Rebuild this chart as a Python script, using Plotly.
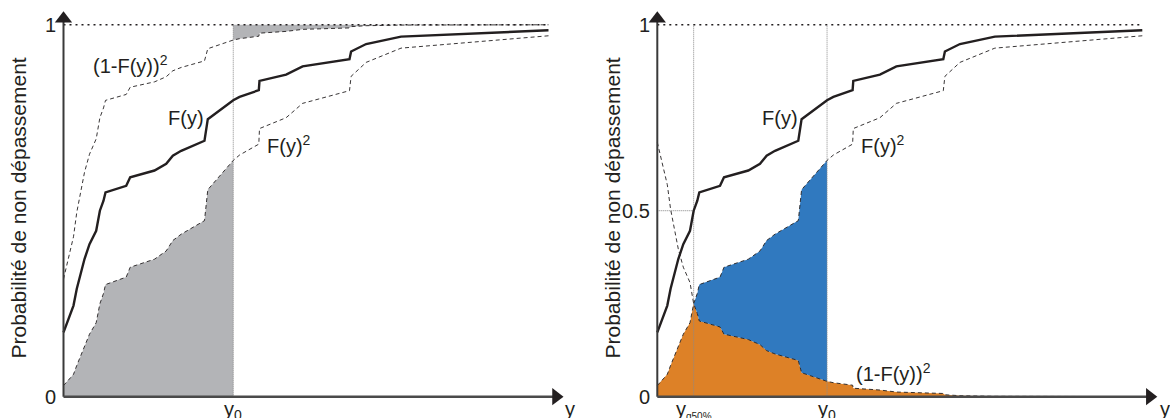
import plotly.graph_objects as go
import numpy as np

# ---- data ----
y_vals = [0, 1.24, 2.06, 2.74, 4.33, 5.36, 6.74, 7.5, 8.25, 8.66, 12.93, 13.75,
          18.76, 21.18, 22.54, 24.27, 29.07, 29.75, 35.0, 36.3, 40.27, 40.41,
          45.9, 49.3, 58.97, 59.3, 62.4, 69.6, 100]
F_vals = [0.173, 0.218, 0.245, 0.29, 0.37, 0.41, 0.446, 0.5, 0.527, 0.549, 0.567, 0.59,
          0.608, 0.626, 0.648, 0.661, 0.688, 0.746, 0.797, 0.806, 0.824, 0.849,
          0.866, 0.888, 0.907, 0.928, 0.948, 0.968, 0.985]
y0 = 35.0
yq50 = 7.5
tick_labels = ["0", "1"]
tick_labels_right = ["0", "0.5", "1"]

x = np.array(y_vals)
F = np.array(F_vals)
F2 = F ** 2
G2 = (1 - F) ** 2
upper = 1 - G2

INK = "#231f20"
GRAY = "#b3b4b7"
BLUE = "#3079bf"
ORANGE = "#dd8127"
FONT = "Liberation Sans, Arial, sans-serif"

W, H = 1170, 418
PX_PER_X = 4.85
PX_PER_Y = 372.0
Y0_PX = 396.7
AX_L = 63.5
AX_R = 657.3

def xr(axis_px, left, right):
    return [(left - axis_px) / PX_PER_X, (right - axis_px) / PX_PER_X]

fig = go.Figure()

def tr(**kw):
    fig.add_trace(go.Scatter(showlegend=False, hoverinfo="skip", **kw))

# ---------- left panel fills ----------
m = x <= y0
tr(x=x[m], y=F2[m], mode="lines", line=dict(width=0), fill="tozeroy",
   fillcolor=GRAY, xaxis="x", yaxis="y")
m2 = x >= y0
tr(x=x[m2], y=np.ones(m2.sum()), mode="lines", line=dict(width=0), xaxis="x", yaxis="y")
tr(x=x[m2], y=upper[m2], mode="lines", line=dict(width=0), fill="tonexty",
   fillcolor=GRAY, xaxis="x", yaxis="y")

# ---------- right panel fills ----------
tr(x=x, y=np.minimum(F2, G2), mode="lines", line=dict(width=0), fill="tozeroy",
   fillcolor=ORANGE, xaxis="x2", yaxis="y2")
mb = (x >= yq50) & (x <= y0)
tr(x=x[mb], y=G2[mb], mode="lines", line=dict(width=0), xaxis="x2", yaxis="y2")
tr(x=x[mb], y=F2[mb], mode="lines", line=dict(width=0), fill="tonexty",
   fillcolor=BLUE, xaxis="x2", yaxis="y2")

# ---------- reference lines ----------
for xa, ya, verts in (("x", "y", [y0]), ("x2", "y2", [yq50, y0])):
    tr(x=[0, x[-1]], y=[1, 1], mode="lines",
       line=dict(color=INK, width=1.6, dash="2px,4px"), xaxis=xa, yaxis=ya)
    for v in verts:
        tr(x=[v, v], y=[0, 1], mode="lines",
           line=dict(color="#8a8a8a", width=1, dash="1px,1px"), xaxis=xa, yaxis=ya)
tr(x=[0, yq50], y=[0.5, 0.5], mode="lines",
   line=dict(color="#9a9a9a", width=1.2, dash="1px,1px"), xaxis="x2", yaxis="y2")

# ---------- curves ----------
dash = "4px,3px"
tr(x=x, y=upper, mode="lines", line=dict(color=INK, width=0.9, dash=dash), xaxis="x", yaxis="y")
tr(x=x, y=F2, mode="lines", line=dict(color=INK, width=0.9, dash=dash), xaxis="x", yaxis="y")
tr(x=x, y=F, mode="lines", line=dict(color=INK, width=2.4), xaxis="x", yaxis="y")

tr(x=x, y=G2, mode="lines", line=dict(color=INK, width=0.9, dash=dash), xaxis="x2", yaxis="y2")
tr(x=x, y=F2, mode="lines", line=dict(color=INK, width=0.9, dash=dash), xaxis="x2", yaxis="y2")
tr(x=x, y=F, mode="lines", line=dict(color=INK, width=2.4), xaxis="x2", yaxis="y2")

# ---------- axes with arrows ----------
y_top_c = (Y0_PX - 18.7) / PX_PER_Y
x_right_c = (556 - AX_L) / PX_PER_X
for xa, ya in (("x", "y"), ("x2", "y2")):
    tr(x=[0, 0], y=[0, y_top_c], mode="lines", line=dict(color="#3a3a3a", width=2),
       xaxis=xa, yaxis=ya)
    tr(x=[0, x_right_c], y=[0, 0], mode="lines", line=dict(color="#4a4a4a", width=2.5),
       xaxis=xa, yaxis=ya)
    tr(x=[0], y=[y_top_c], mode="markers",
       marker=dict(symbol="triangle-up", size=15, color=INK), xaxis=xa, yaxis=ya)
    tr(x=[x_right_c], y=[0], mode="markers",
       marker=dict(symbol="triangle-right", size=15, color=INK), xaxis=xa, yaxis=ya)

yr = [(Y0_PX - H) / PX_PER_Y, Y0_PX / PX_PER_Y]
fig.update_layout(
    width=W, height=H, margin=dict(l=0, r=0, t=0, b=0),
    paper_bgcolor="white", plot_bgcolor="white",
    font=dict(family=FONT, color=INK, size=20),
    xaxis=dict(domain=[0, 0.5], range=xr(AX_L, 0, 585), visible=False, fixedrange=True),
    xaxis2=dict(domain=[0.5, 1], range=xr(AX_R - 585, 0, 585), visible=False, fixedrange=True),
    yaxis=dict(domain=[0, 1], range=yr, visible=False, anchor="x"),
    yaxis2=dict(domain=[0, 1], range=yr, visible=False, anchor="x2"),
)

def ann(text, xx, yy, xa, ya, **kw):
    d = dict(text=text, x=xx, y=yy, xref=xa, yref=ya, showarrow=False,
             font=dict(family=FONT, size=kw.pop("size", 20), color=INK))
    d.update(kw)
    fig.add_annotation(**d)

tick_dx = -5.5 / PX_PER_X
# tick labels
ann(tick_labels[0], tick_dx, 0, "x", "y", xanchor="right", yanchor="middle", size=20)
ann(tick_labels[1], tick_dx, 1, "x", "y", xanchor="right", yanchor="middle", size=20)
for t, v in zip(tick_labels_right, [0, 0.5, 1]):
    ann(t, tick_dx, v, "x2", "y2", xanchor="right", yanchor="middle", size=20)

# x labels
ylab = (Y0_PX - 410) / PX_PER_Y
yend = (Y0_PX - 409) / PX_PER_Y
ann("y<sub>0</sub>", y0, ylab, "x", "y", xanchor="center", yanchor="middle")
ann("y", 104.4, yend, "x", "y", xanchor="center", yanchor="middle")
ann("y<sub>0</sub>", y0, ylab, "x2", "y2", xanchor="center", yanchor="middle")
ann("y<sub><span style='font-size:10px'>q50%</span></sub>", yq50, ylab, "x2", "y2",
    xanchor="center", yanchor="middle")
ann("y", 104.7, yend, "x2", "y2", xanchor="center", yanchor="middle")

# curve labels
ann("(1-F(y))<sup>2</sup>", 5.67, 0.892, "x", "y", xanchor="left", yanchor="middle")
ann("F(y)", 21.1, 0.749, "x", "y", xanchor="left", yanchor="middle")
ann("F(y)<sup>2</sup>", 41.5, 0.679, "x", "y", xanchor="left", yanchor="middle")
ann("F(y)", 21.1, 0.749, "x2", "y2", xanchor="left", yanchor="middle")
ann("F(y)<sup>2</sup>", 41.5, 0.679, "x2", "y2", xanchor="left", yanchor="middle")
ann("(1-F(y))<sup>2</sup>", 40.6, 0.066, "x2", "y2", xanchor="left", yanchor="middle")

# axis titles
for px in (18, 612):
    fig.add_annotation(text="Probabilité de non dépassement", x=px / W, y=1 - 208.5 / H,
                       xref="paper", yref="paper", showarrow=False, textangle=-90,
                       xanchor="center", yanchor="middle",
                       font=dict(family=FONT, size=21, color=INK))

fig.write_html("out.html")
